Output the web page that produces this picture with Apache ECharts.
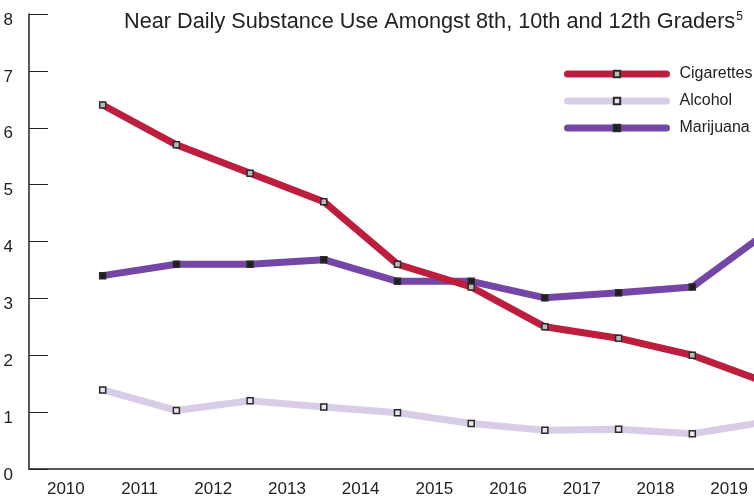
<!DOCTYPE html>
<html>
<head>
<meta charset="utf-8">
<script src="https://cdn.jsdelivr.net/npm/echarts@6/dist/echarts.min.js"></script>
<style>
  html, body { margin: 0; padding: 0; background: #fff; }
  #main { width: 754px; height: 499px; }
</style>
</head>
<body>
<div id="main"></div>
<script>
// labels sit in the bands, points sit on the band edges (1..10)
let years = ["2010","2011","2012","2013","2014","2015","2016","2017","2018","2019"]
let pos = [1,2,3,4,5,6,7,8,9,10]
let cigarettes = [6.4, 5.7, 5.2, 4.7, 3.6, 3.2, 2.5, 2.3, 2.0, 1.52]
let alcohol = [1.39, 1.03, 1.2, 1.09, 0.99, 0.8, 0.68, 0.7, 0.62, 0.83]
let marijuana = [3.4, 3.6, 3.6, 3.68, 3.3, 3.3, 3.01, 3.1, 3.2, 4.15]
let yTicks = [0,1,2,3,4,5,6,7,8]

function pairs(arr) {
    return arr.map((v, i) => [pos[i], v])
}

var myChart = echarts.init(document.getElementById('main'));

function mkSeries(name, data, color, fill) {
    return {
        name: name,
        type: 'line',
        xAxisIndex: 1,
        data: pairs(data),
        symbol: 'rect',
        symbolSize: 6,
        showAllSymbol: true,
        lineStyle: { color: color, width: 7, cap: 'round', join: 'round' },
        itemStyle: { color: fill, borderColor: '#2a2a2a', borderWidth: 1.5 },
        z: 3
    }
}

var option = {
    animation: false,
    title: {
        text: 'Near Daily Substance Use Amongst 8th, 10th and 12th Graders{s|5}',
        left: 124,
        top: 11,
        padding: 0,
        textStyle: {
            fontFamily: 'Liberation Sans',
            fontWeight: 'normal',
            fontSize: 21.7,
            color: '#222',
            rich: { s: { fontSize: 12, verticalAlign: 'top', padding: [0, 0, 10, 1], fontFamily: 'Liberation Sans', color: '#222' } }
        }
    },
    legend: {
        orient: 'vertical',
        left: 564,
        top: 66,
        padding: 0,
        itemWidth: 99,
        itemHeight: 8,
        itemGap: 11,
        lineStyle: { width: 7, cap: 'round' },
        textStyle: { fontFamily: 'Liberation Sans', fontSize: 16, color: '#222', padding: [0, 0, 0, 8] },
        data: ['Cigarettes', 'Alcohol', 'Marijuana']
    },
    grid: { left: 29, width: 737, top: 14, bottom: 30, outerBoundsMode: 'none', containLabel: false },
    xAxis: [
        {
            type: 'category',
            data: years,
            boundaryGap: true,
            axisLine: { lineStyle: { color: '#222', width: 1.5 } },
            axisTick: { inside: true, length: 10, lineStyle: { color: '#444' } },
            axisLabel: { fontFamily: 'Liberation Sans', fontSize: 17, color: '#222', margin: 12 }
        },
        {
            type: 'value',
            min: 0,
            max: 10,
            show: false
        }
    ],
    yAxis: {
        type: 'value',
        min: yTicks[0],
        max: yTicks[yTicks.length - 1],
        interval: 1,
        splitLine: { show: false },
        axisLine: { show: true, lineStyle: { color: '#222', width: 1.5 } },
        axisTick: { show: true, inside: true, length: 19, lineStyle: { color: '#222' } },
        axisLabel: { fontFamily: 'Liberation Sans', fontSize: 17, color: '#222', margin: 16, verticalAlign: 'top', lineHeight: 12 }
    },
    series: [
        mkSeries('Alcohol', alcohol, '#d9cce6', '#e8e8e8'),
        mkSeries('Marijuana', marijuana, '#7446a6', '#1e1e1e'),
        mkSeries('Cigarettes', cigarettes, '#be1e3d', '#bbbbbb')
    ]
};

myChart.setOption(option);
</script>
</body>
</html>
